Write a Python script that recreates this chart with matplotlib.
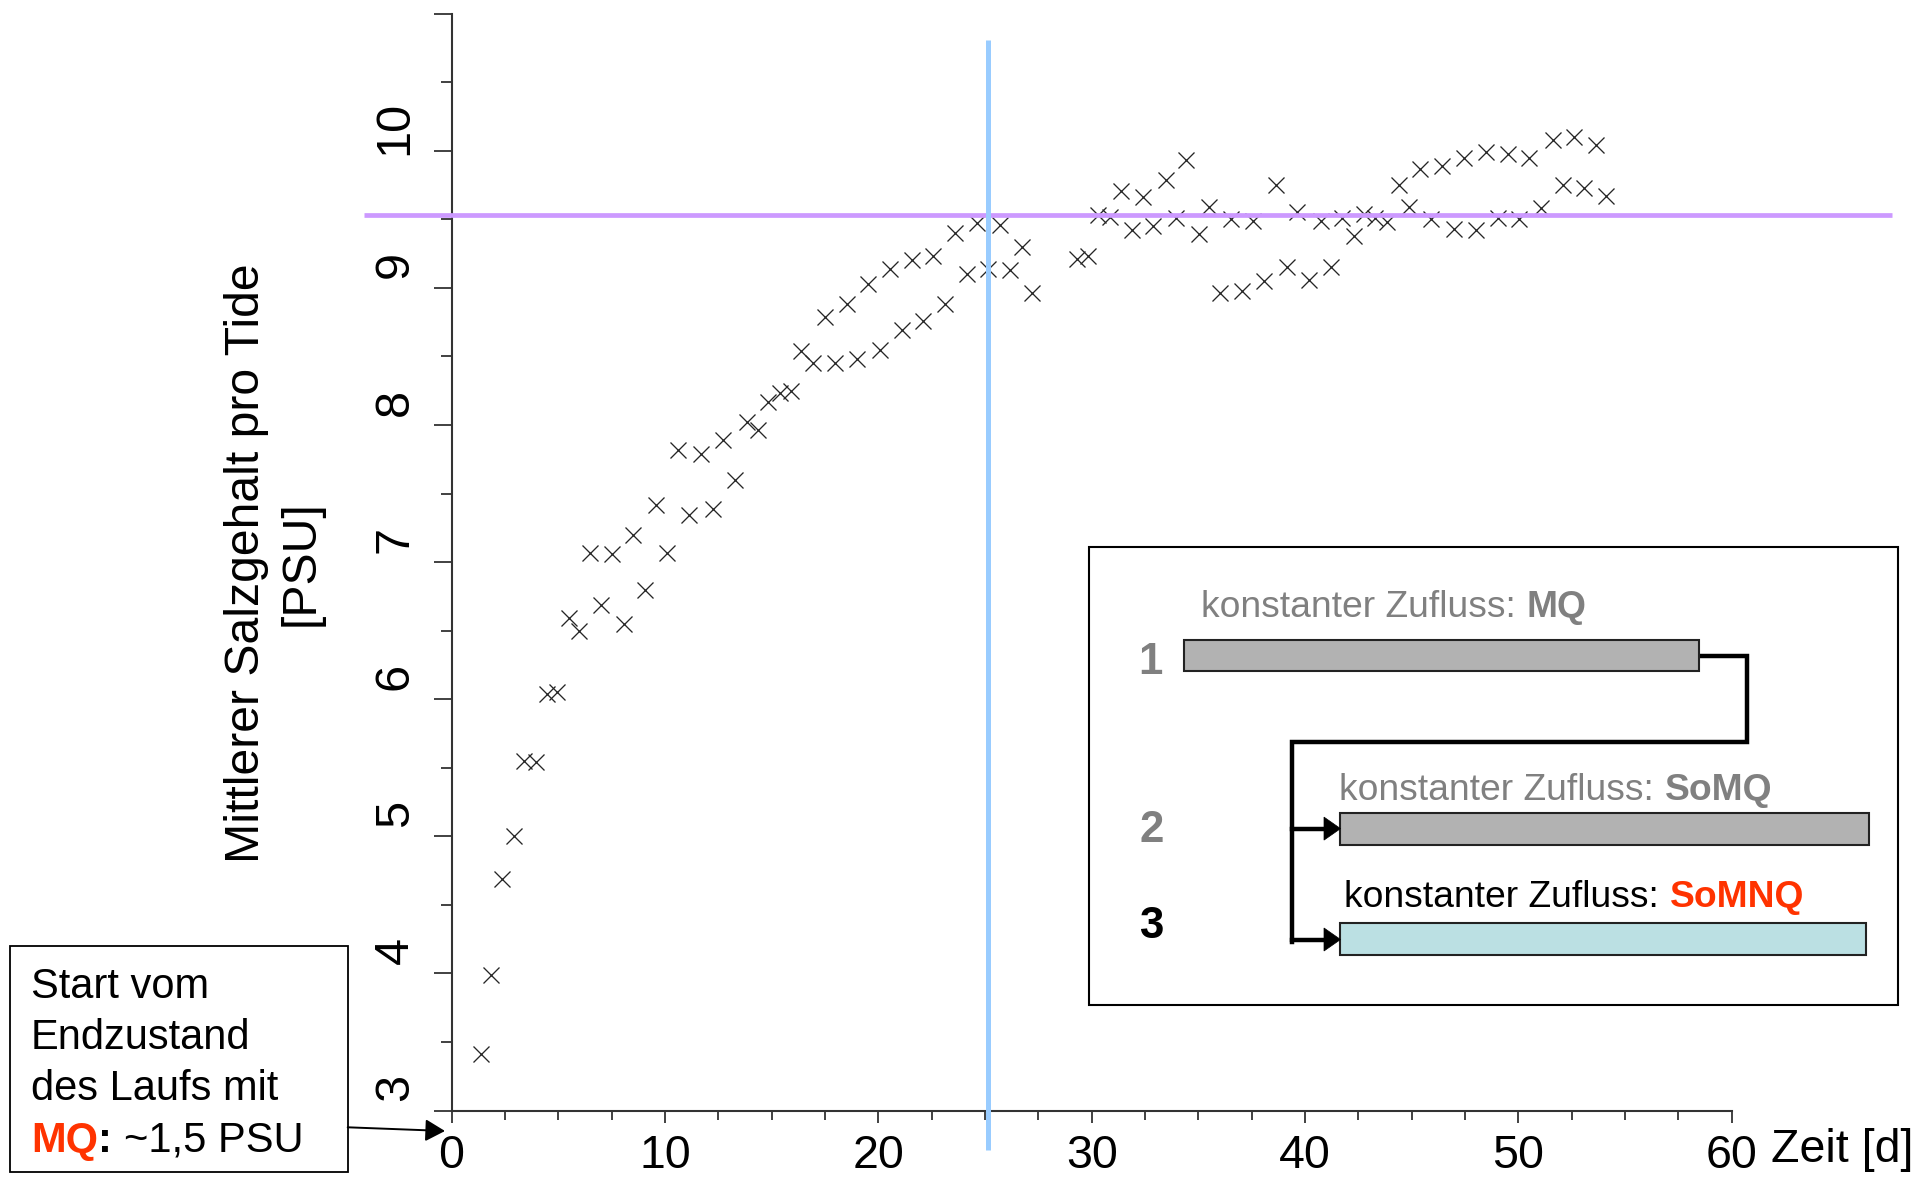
import matplotlib
matplotlib.use("Agg")
import matplotlib.pyplot as plt
from matplotlib import transforms
from matplotlib.patches import Rectangle, Polygon
from matplotlib.ticker import MultipleLocator

plt.rcParams['font.family'] = ['Liberation Sans', 'DejaVu Sans']

# ---------------- data ----------------
days = [1.36, 1.83, 2.37, 2.92, 3.41, 3.95, 4.48, 4.95, 5.50, 5.97,
        6.48, 7.00, 7.52, 8.06, 8.49, 9.06, 9.58, 10.10, 10.62, 11.13,
        11.68, 12.23, 12.73, 13.27, 13.83, 14.34, 14.84, 15.39, 15.90, 16.37,
        16.95, 17.50, 17.97, 18.51, 18.98, 19.53, 20.07, 20.54, 21.09, 21.56,
        22.10, 22.57, 23.12, 23.59, 24.14, 24.61, 25.15, 25.70, 26.17, 26.72,
        27.18, 29.29, 29.84, 30.30, 30.85, 31.35, 31.87, 32.41, 32.88, 33.46,
        33.93, 34.44, 35.02, 35.49, 36.00, 36.52, 37.05, 37.57, 38.07, 38.62,
        39.13, 39.63, 40.18, 40.73, 41.20, 41.74, 42.29, 42.76, 43.30, 43.85,
        44.38, 44.86, 45.41, 45.89, 46.42, 46.97, 47.46, 48.00, 48.47, 49.02,
        49.49, 50.03, 50.50, 51.05, 51.60, 52.07, 52.61, 53.08, 53.63, 54.10]
salinity = [3.41, 3.99, 4.69, 5.00, 5.55, 5.54, 6.04, 6.05, 6.59, 6.50,
            7.07, 6.69, 7.06, 6.55, 7.20, 6.80, 7.42, 7.07, 7.82, 7.34,
            7.79, 7.39, 7.89, 7.60, 8.02, 7.96, 8.17, 8.23, 8.25, 8.54,
            8.45, 8.79, 8.45, 8.88, 8.48, 9.03, 8.55, 9.14, 8.69, 9.20,
            8.76, 9.23, 8.88, 9.40, 9.10, 9.47, 9.14, 9.46, 9.13, 9.30,
            8.96, 9.21, 9.23, 9.53, 9.52, 9.71, 9.42, 9.66, 9.45, 9.79,
            9.51, 9.93, 9.39, 9.59, 8.96, 9.50, 8.98, 9.49, 9.05, 9.75,
            9.15, 9.55, 9.06, 9.49, 9.15, 9.51, 9.38, 9.54, 9.51, 9.48,
            9.75, 9.59, 9.87, 9.50, 9.89, 9.43, 9.95, 9.42, 9.99, 9.51,
            9.98, 9.50, 9.95, 9.58, 10.08, 9.75, 10.10, 9.73, 10.04, 9.67]

ref_salinity = 9.53          # horizontal reference line
ref_day = 25.12              # vertical reference line
x_ticks = [0, 10, 20, 30, 40, 50, 60]
y_ticks = [3, 4, 5, 6, 7, 8, 9, 10]
y_label_lines = ["Mittlerer Salzgehalt pro Tide", "[PSU]"]
x_label = "Zeit [d]"
scenario_numbers = ["1", "2", "3"]
scenario_prefix = "konstanter Zufluss:"
scenario_flows = ["MQ", "SoMQ", "SoMNQ"]
note_lines = ["Start vom", "Endzustand", "des Laufs mit"]
note_last = ["MQ", ":", "~1,5 PSU"]

# ---------------- layout ----------------
W, H, DPI = 1919, 1180, 100
fig = plt.figure(figsize=(W / DPI, H / DPI), dpi=DPI)
fig.patch.set_facecolor('white')

def fx(px):
    return px / W

def fy(py):
    return 1 - py / H

AX_L, AX_R, AX_B, AX_T = 451.6, 1731.8, 1110.5, 13.7
ax = fig.add_axes([fx(AX_L), fy(AX_B), fx(AX_R) - fx(AX_L), fy(AX_T) - fy(AX_B)])
ax.set_xlim(0, 60)
ax.set_ylim(3, 11)

DARK = '#333333'
ax.plot(days, salinity, linestyle='none', marker='x', markersize=12,
        markeredgewidth=0.95, color='#262626', zorder=2)

hline_extent = (-4.1, 67.5)
vline_extent = (2.71, 10.81)
ax.plot(hline_extent, [ref_salinity, ref_salinity], color='#CC99FF', lw=3.4,
        clip_on=False, zorder=3, solid_capstyle='butt')
ax.plot([ref_day, ref_day], vline_extent, color='#99CCFF', lw=3.6,
        clip_on=False, zorder=3, solid_capstyle='butt')

for s in ['top', 'right']:
    ax.spines[s].set_visible(False)
for s in ['left', 'bottom']:
    ax.spines[s].set_color(DARK)
    ax.spines[s].set_linewidth(1.5)

ax.set_xticks(x_ticks)
ax.set_xticklabels([str(t) for t in x_ticks])
ax.xaxis.set_minor_locator(MultipleLocator(2.5))
ax.set_yticks(list(range(3, 12)))
ax.yaxis.set_minor_locator(MultipleLocator(0.5))
ax.tick_params(axis='x', which='major', direction='out', length=8.6, width=1.3,
               color=DARK, labelsize=33.5, pad=8)
ax.tick_params(axis='x', which='minor', direction='out', length=6.3, width=1.3, color=DARK)
ax.tick_params(axis='y', which='major', direction='out', length=13, width=1.3,
               color=DARK, labelleft=False)
ax.tick_params(axis='y', which='minor', direction='out', length=7.7, width=1.3, color=DARK)

ytrans = (transforms.blended_transform_factory(fig.transFigure, ax.transData)
          + transforms.ScaledTranslation(0, 23 / DPI, fig.dpi_scale_trans))
for v in y_ticks:
    ax.text(fx(407.6), v, str(v), transform=ytrans, rotation=90,
            rotation_mode='anchor', ha='center', va='baseline', fontsize=35,
            clip_on=False)

# ---------------- overlay in pixel coordinates ----------------
ov = fig.add_axes([0, 0, 1, 1], facecolor='none')
ov.set_xlim(0, W)
ov.set_ylim(H, 0)
ov.axis('off')

ov.text(259, 563, y_label_lines[0], rotation=90, rotation_mode='anchor',
        ha='center', va='baseline', fontsize=34.7)
ov.text(314, 563, y_label_lines[1], rotation=90, rotation_mode='anchor',
        ha='center', va='baseline', fontsize=34.7)
ov.text(1770.7, 1162.0, x_label, ha='left', va='baseline', fontsize=33.5)

GRAY = '#808080'
RED = '#FF3300'


def rich(x, y, parts, size):
    """parts: list of (text, color, weight, gap_em)"""
    txt, col, wt, _ = parts[0]
    prev = ov.text(x, y, txt, color=col, fontweight=wt, fontsize=size,
                   ha='left', va='baseline', zorder=5)
    for txt, col, wt, gap in parts[1:]:
        prev = ov.annotate(txt, xy=(1, 0), xycoords=prev,
                           xytext=(gap * size, 0), textcoords='offset points',
                           ha='left', va='bottom', color=col, fontweight=wt,
                           fontsize=size, zorder=5)


# inset frame
ov.add_patch(Rectangle((1089.3, 547.1), 809.0, 457.7, facecolor='white',
                       edgecolor='black', lw=1.5, zorder=1))
bar_specs = [((1183.5, 640.0), 515.5, 31.0, '#B2B2B2'),
             ((1340.2, 812.7), 528.7, 31.8, '#B2B2B2'),
             ((1340.2, 922.8), 526.2, 31.8, '#BBE0E3')]
for (x0, y0), w, h, c in bar_specs:
    ov.add_patch(Rectangle((x0, y0), w, h, facecolor=c, edgecolor='#222222',
                           lw=1.5, zorder=3))

# connector
ov.plot([1699, 1746.5, 1746.5, 1292.4, 1292.4], [656, 656, 741.7, 741.7, 942.4],
        color='black', lw=3.2, solid_joinstyle='miter', zorder=2)
for yb in (828.6, 939.5):
    ov.plot([1292.4, 1326], [yb, yb], color='black', lw=3.2, zorder=2)
    ov.add_patch(Polygon([[1324, yb - 11.5], [1340.5, yb], [1324, yb + 11.5]],
                         closed=True, facecolor='black', edgecolor='black',
                         lw=0.5, zorder=4))

num_pos = [(1150.5, 674.5), (1151.7, 841.5), (1151.7, 938.5)]
num_colors = [GRAY, GRAY, 'black']
for (x, y), n, c in zip(num_pos, scenario_numbers, num_colors):
    ov.text(x, y, n, ha='center', va='baseline', fontsize=31.5,
            fontweight='bold', color=c)

label_pos = [(1201.0, 617.0), (1339.0, 800.0), (1343.8, 907.0)]
prefix_colors = [GRAY, GRAY, 'black']
flow_colors = [GRAY, GRAY, RED]
for (x, y), fl, pc, fc in zip(label_pos, scenario_flows, prefix_colors, flow_colors):
    rich(x, y, [(scenario_prefix, pc, 'normal', 0),
                (fl, fc, 'bold', 0.3)], 26.8)

# note box
ov.add_patch(Rectangle((9.5, 945.7), 338.2, 226.6, facecolor='white',
                       edgecolor='black', lw=1.3, zorder=1))
for yb, line in zip([998.3, 1049.3, 1100.0], note_lines):
    ov.text(31.0, yb, line, ha='left', va='baseline', fontsize=30, zorder=3)
rich(31.0, 1151.7, [(note_last[0], RED, 'bold', 0),
                    (note_last[1], 'black', 'bold', 0),
                    (note_last[2], 'black', 'normal', 0.3)], 30)

ov.annotate('', xy=(445, 1131), xytext=(347.7, 1127.3),
            arrowprops=dict(arrowstyle='-|>,head_length=0.8,head_width=0.45',
                            mutation_scale=15, lw=1.4, color='black',
                            shrinkA=0, shrinkB=0))

fig.savefig('out.png', dpi=DPI, facecolor='white')
